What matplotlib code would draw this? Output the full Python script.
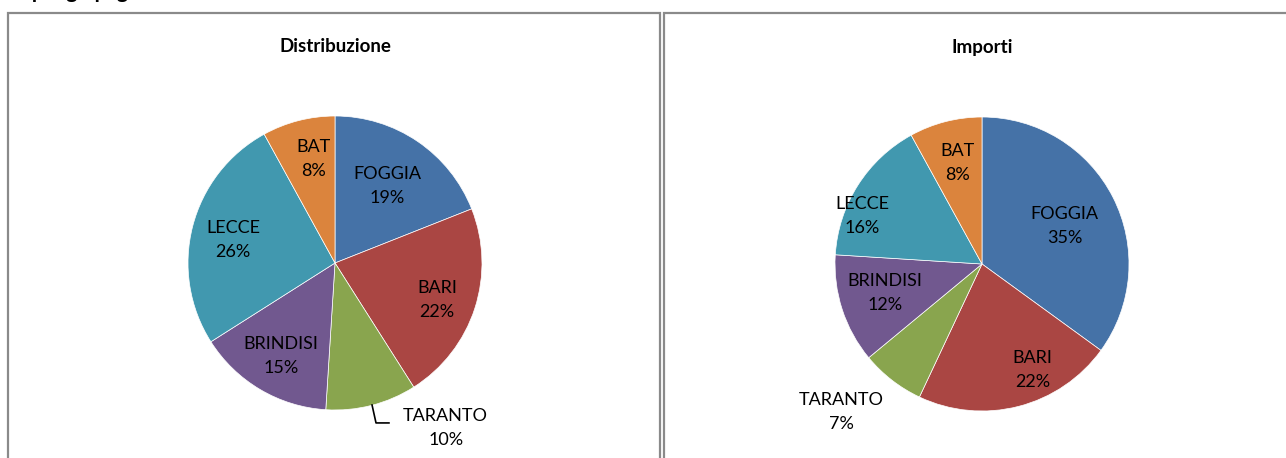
"""Two pie charts: distribution and amounts of payments per province."""

import numpy as np
import matplotlib.pyplot as plt
from matplotlib.patches import Rectangle

plt.rcParams["font.family"] = ["Lato", "DejaVu Sans"]

provinces = ["FOGGIA", "BARI", "TARANTO", "BRINDISI", "LECCE", "BAT"]
distribuzione = [19, 22, 10, 15, 26, 8]
importi = [35, 22, 7, 12, 16, 8]
colors = ["#4572A7", "#AA4643", "#89A54E", "#71588F", "#4198AF", "#DB843D"]

W, H = 1286, 458


def px_axes(fig, cx, cy, r):
    # axes in pixel coordinates (origin top-left), square of side 2r
    return fig.add_axes([(cx - r) / W, (H - cy - r) / H, 2 * r / W, 2 * r / H])


def draw_pie(ax, values, label_pos, leader=None):
    wedges, _ = ax.pie(values, colors=colors, startangle=90, counterclock=False,
                       radius=1.0, wedgeprops=dict(linewidth=0.5, edgecolor="white"))
    ax.set_xlim(-1, 1)
    ax.set_ylim(-1, 1)
    ax.set_aspect("equal")
    ax.axis("off")
    for w, name, val, (dist, shift) in zip(wedges, provinces, values, label_pos):
        theta = np.deg2rad((w.theta1 + w.theta2) / 2 + shift)
        ax.text(dist * np.cos(theta), dist * np.sin(theta), f"{name}\n{val}%",
                ha="center", va="center", fontsize=13, linespacing=1.62,
                color="black", clip_on=False)
    if leader is not None:
        ax.plot(*leader, color="black", lw=1.2, clip_on=False)


fig = plt.figure(figsize=(W / 100, H / 100), dpi=100)

# panel borders
for x0, y0, x1, y1 in [(8, 12.5, 660, 470), (664, 12.5, 1300, 470)]:
    fig.patches.append(Rectangle((x0 / W, (H - y1) / H), (x1 - x0) / W, (y1 - y0) / H,
                                 transform=fig.transFigure, fill=False,
                                 edgecolor="#8a8a8a", linewidth=1.6))

# header text cut off at the top of the image (as in the source page)
fig.text(2 / W, 1 + 2 / H, "Riepilogo pagamenti", fontsize=15, fontweight="bold",
         ha="left", va="baseline")

fig.text(335 / W, 1 - 47 / H, "Distribuzione", fontsize=13.5, fontweight="bold",
         ha="center", va="center")
fig.text(982 / W, 1 - 47 / H, "Importi", fontsize=13.5, fontweight="bold",
         ha="center", va="center")

ax1 = px_axes(fig, 335, 263, 147)
draw_pie(ax1, distribuzione,
         [(0.63, 0), (0.74, -2), (1.35, 19.5), (0.73, 0.5), (0.71, 1.5), (0.72, -2.5)],
         leader=([0.252, 0.279, 0.367], [-0.966, -1.088, -1.088]))

ax2 = px_axes(fig, 982, 264, 147)
draw_pie(ax2, importi,
         [(0.62, -2.4), (0.8, 11), (1.39, -5.6), (0.69, -1.4), (0.88, 10.4), (0.71, -0.6)])

fig.savefig("out.png", dpi=100, facecolor="white")
